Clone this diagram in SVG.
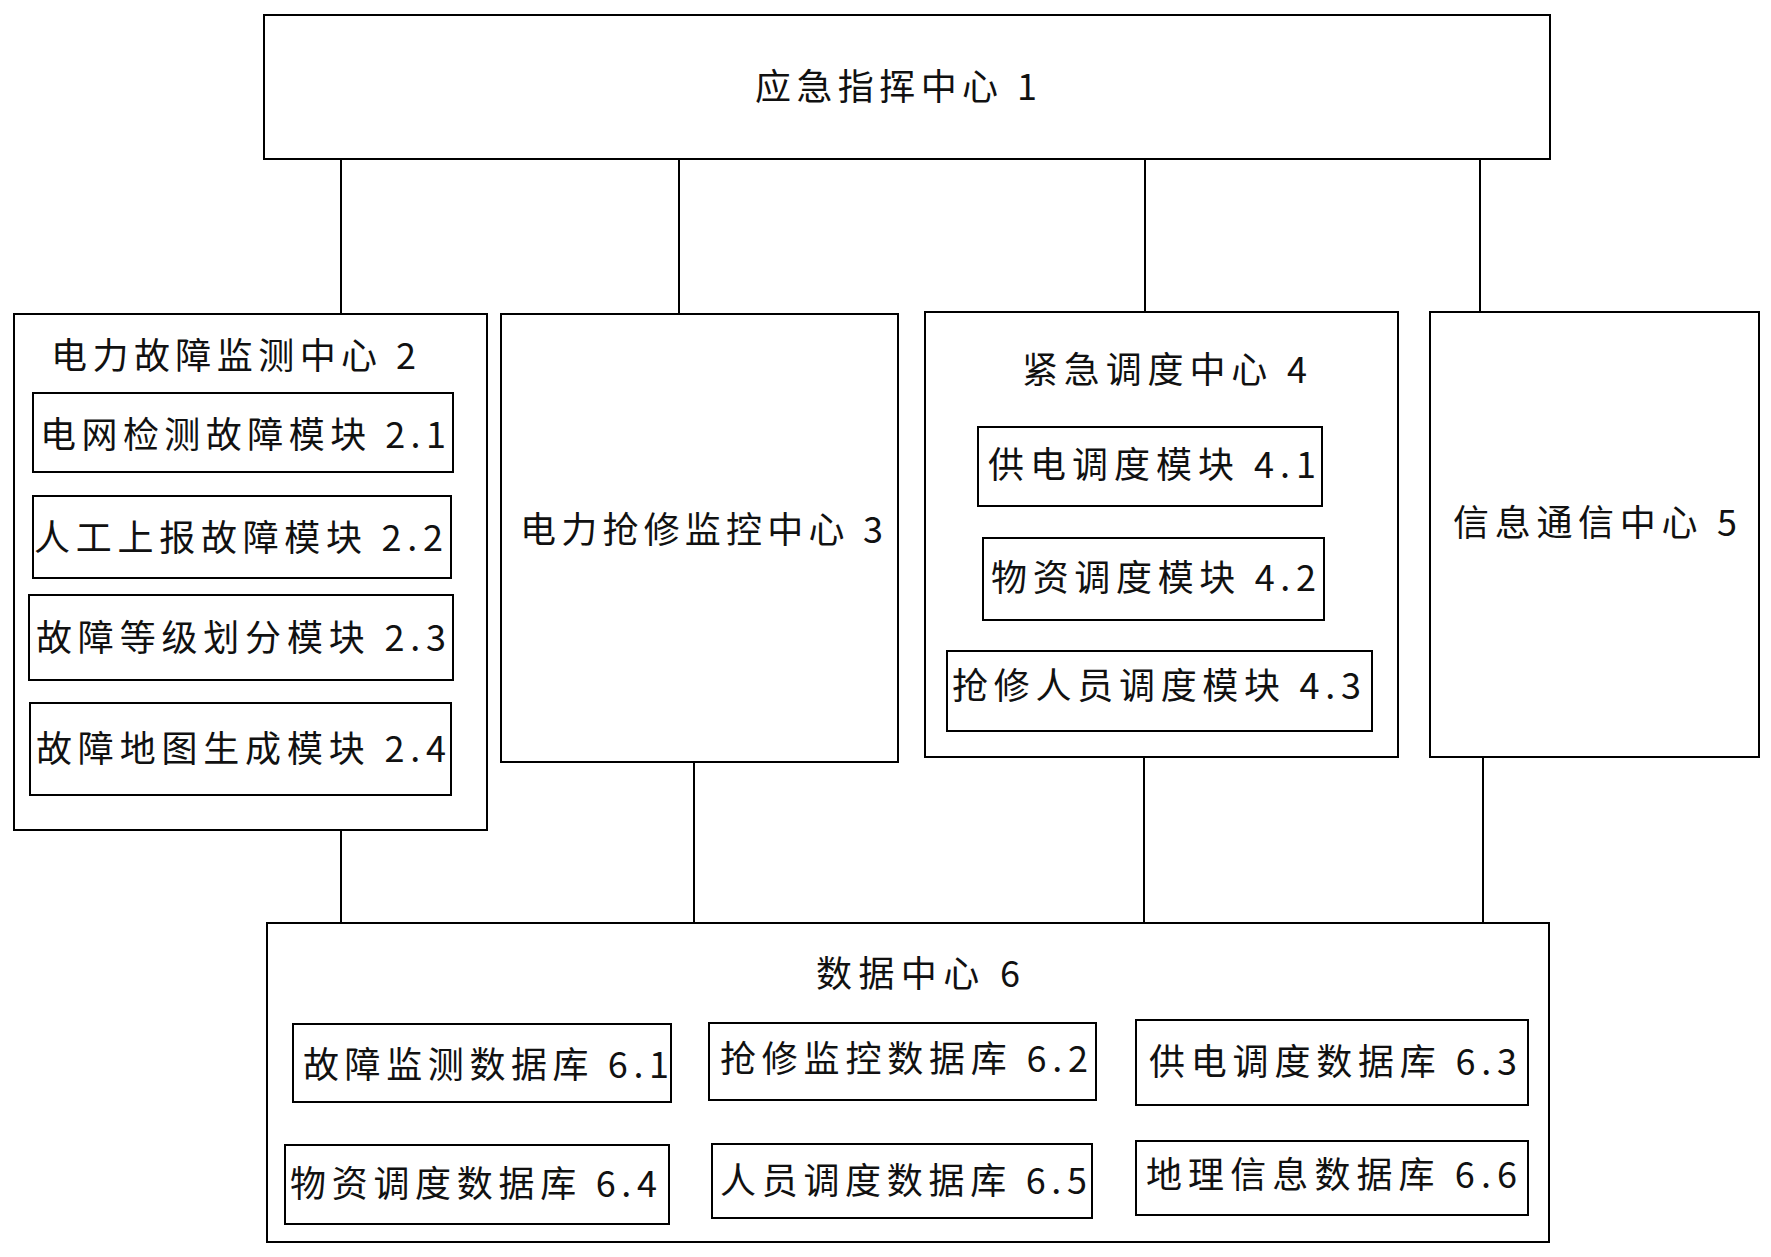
<svg xmlns="http://www.w3.org/2000/svg" width="1771" height="1257" viewBox="0 0 1771 1257">
<style>
rect{fill:#fff;stroke:#000;stroke-width:2}
line{stroke:#000;stroke-width:2}
text{font-family:"Noto Sans CJK SC","Liberation Sans",sans-serif;font-size:36px;fill:#111;lengthAdjust:spacing}
</style>
<rect x="0" y="0" width="1771" height="1257" style="stroke:none"/>
<g id="connectors">
<line x1="341" y1="159" x2="341" y2="314"/><line x1="679" y1="159" x2="679" y2="314"/>
<line x1="1145" y1="159" x2="1145" y2="312"/><line x1="1480" y1="159" x2="1480" y2="312"/>
<line x1="341" y1="830" x2="341" y2="923"/><line x1="694" y1="762" x2="694" y2="923"/>
<line x1="1144" y1="757" x2="1144" y2="923"/><line x1="1483" y1="757" x2="1483" y2="923"/>
</g>
<g id="n1"><rect x="264" y="15" width="1286" height="144"/><text x="755" y="100" textLength="282">应急指挥中心 1</text></g>
<g id="n2"><rect x="14" y="314" width="473" height="516"/><text x="51" y="369" textLength="365">电力故障监测中心 2</text>
<g id="n2_1"><rect x="33" y="393" width="420" height="79"/><text x="40" y="448" textLength="406">电网检测故障模块 2.1</text></g>
<g id="n2_2"><rect x="33" y="496" width="418" height="82"/><text x="34" y="551" textLength="409">人工上报故障模块 2.2</text></g>
<g id="n2_3"><rect x="29" y="595" width="424" height="85"/><text x="36" y="651" textLength="410">故障等级划分模块 2.3</text></g>
<g id="n2_4"><rect x="30" y="703" width="421" height="92"/><text x="36" y="762" textLength="410">故障地图生成模块 2.4</text></g>
</g>
<g id="n3"><rect x="501" y="314" width="397" height="448"/><text x="520" y="543" textLength="363">电力抢修监控中心 3</text></g>
<g id="n4"><rect x="925" y="312" width="473" height="445"/><text x="1022" y="383" textLength="285">紧急调度中心 4</text>
<g id="n4_1"><rect x="978" y="427" width="344" height="79"/><text x="988" y="478" textLength="328">供电调度模块 4.1</text></g>
<g id="n4_2"><rect x="983" y="538" width="341" height="82"/><text x="991" y="591" textLength="325">物资调度模块 4.2</text></g>
<g id="n4_3"><rect x="947" y="651" width="425" height="80"/><text x="952" y="699" textLength="409">抢修人员调度模块 4.3</text></g>
</g>
<g id="n5"><rect x="1430" y="312" width="329" height="445"/><text x="1453" y="536" textLength="284">信息通信中心 5</text></g>
<g id="n6"><rect x="267" y="923" width="1282" height="319"/><text x="816" y="987" textLength="204">数据中心 6</text>
<g id="n6_1"><rect x="293" y="1024" width="378" height="78"/><text x="303" y="1078" textLength="366">故障监测数据库 6.1</text></g>
<g id="n6_2"><rect x="709" y="1023" width="387" height="77"/><text x="720" y="1072" textLength="368">抢修监控数据库 6.2</text></g>
<g id="n6_3"><rect x="1136" y="1020" width="392" height="85"/><text x="1149" y="1075" textLength="368">供电调度数据库 6.3</text></g>
<g id="n6_4"><rect x="285" y="1145" width="384" height="79"/><text x="290" y="1197" textLength="367">物资调度数据库 6.4</text></g>
<g id="n6_5"><rect x="712" y="1144" width="380" height="74"/><text x="720" y="1194" textLength="367">人员调度数据库 6.5</text></g>
<g id="n6_6"><rect x="1136" y="1141" width="392" height="74"/><text x="1146" y="1188" textLength="371">地理信息数据库 6.6</text></g>
</g>
</svg>
